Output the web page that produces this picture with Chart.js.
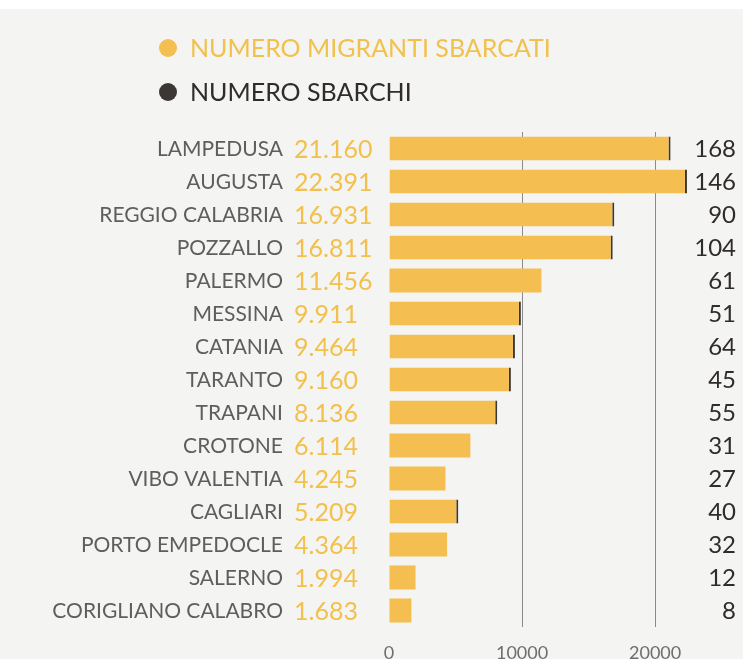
<!DOCTYPE html>
<html>
<head>
<meta charset="utf-8">
<script src="https://cdn.jsdelivr.net/npm/chart.js@4"></script>
<style>
  html, body { margin: 0; padding: 0; background: #f4f4f2; }
  #wrap { width: 743px; height: 659px; position: relative; }
</style>
</head>
<body>
<div id="wrap"><canvas id="chart" width="743" height="659"></canvas></div>
<script>
const cities = ['LAMPEDUSA', 'AUGUSTA', 'REGGIO CALABRIA', 'POZZALLO', 'PALERMO', 'MESSINA', 'CATANIA',
  'TARANTO', 'TRAPANI', 'CROTONE', 'VIBO VALENTIA', 'CAGLIARI', 'PORTO EMPEDOCLE', 'SALERNO', 'CORIGLIANO CALABRO'];
const migranti = [21160, 22391, 16931, 16811, 11456, 9911, 9464, 9160, 8136, 6114, 4245, 5209, 4364, 1994, 1683];
const sbarchi = [168, 146, 90, 104, 61, 51, 64, 45, 55, 31, 27, 40, 32, 12, 8];
const xTicks = [0, 10000, 20000];
// which bars carry the thin dark end mark in the original
const endMark = [1, 1, 1, 1, 0, 1, 1, 1, 1, 0, 0, 1, 0, 0, 0];

const YELLOW = '#f4bf50';
const YELLOW_TEXT = '#f2c04c';
const DARK = '#3b3735';

// Italian thousands separator
function fmt(n) {
  return String(n).replace(/\B(?=(\d{3})+(?!\d))/g, '.');
}

// Page background, legend and row labels
const decorPlugin = {
  id: 'decor',
  beforeDraw(chart) {
    const ctx = chart.ctx;
    ctx.save();
    ctx.fillStyle = '#f4f4f2';
    ctx.fillRect(0, 0, chart.width, chart.height);
    ctx.fillStyle = '#ffffff';
    ctx.fillRect(0, 0, chart.width, 9);
    ctx.restore();
  },
  afterDatasetsDraw(chart) {
    const ctx = chart.ctx;
    const y = chart.scales.y;
    ctx.save();

    // legend
    const legend = [
      { text: chart.data.datasets[0].label, color: YELLOW, textColor: YELLOW_TEXT, y: 48 },
      { text: 'NUMERO SBARCHI', color: DARK, textColor: '#2f2c2b', y: 92 }
    ];
    ctx.textBaseline = 'middle';
    ctx.textAlign = 'left';
    ctx.font = '25px Lato';
    legend.forEach(item => {
      ctx.fillStyle = item.color;
      ctx.beginPath();
      ctx.arc(168, item.y, 9, 0, Math.PI * 2);
      ctx.fill();
      ctx.fillStyle = item.textColor;
      ctx.fillText(item.text, 190, item.y + 1);
    });

    // row labels
    cities.forEach((name, i) => {
      const py = y.getPixelForValue(i) + 1;
      ctx.textAlign = 'right';
      ctx.font = '21px Lato';
      ctx.fillStyle = '#5e5e5e';
      ctx.fillText(name, 283, py);

      ctx.textAlign = 'left';
      ctx.font = '25px Lato';
      ctx.fillStyle = YELLOW_TEXT;
      ctx.fillText(fmt(migranti[i]), 294, py);

      ctx.textAlign = 'right';
      ctx.font = '24px Lato';
      ctx.fillStyle = '#2f2c2b';
      ctx.fillText(String(sbarchi[i]), 736, py);
    });
    ctx.restore();
  }
};

function draw() {
  new Chart(document.getElementById('chart'), {
    type: 'bar',
    data: {
      labels: cities,
      datasets: [{
        label: 'NUMERO MIGRANTI SBARCATI',
        data: migranti,
        backgroundColor: YELLOW,
        borderColor: DARK,
        borderWidth: ctx => ({ top: 0, bottom: 0, left: 0, right: endMark[ctx.dataIndex] ? 2 : 0 }),
        borderSkipped: false,
        barPercentage: 0.73,
        categoryPercentage: 1
      }]
    },
    options: {
      indexAxis: 'y',
      responsive: false,
      animation: false,
      layout: { padding: { left: 389, right: 8, top: 132, bottom: 0 } },
      plugins: {
        legend: { display: false },
        tooltip: { enabled: false }
      },
      scales: {
        y: { display: false },
        x: {
          min: 0,
          max: 26000,
          afterBuildTicks: axis => { axis.ticks = xTicks.map(v => ({ value: v })); },
          afterFit: axis => { axis.height = 32; },
          border: { display: false },
          grid: {
            drawTicks: false,
            color: c => (c.tick && c.tick.value === 0) ? 'rgba(0,0,0,0)' : '#8a8a8a',
            lineWidth: 1
          },
          ticks: {
            padding: 15,
            color: '#6e6e6e',
            font: { family: 'Lato', size: 18 },
            callback: v => String(v)
          }
        }
      }
    },
    plugins: [decorPlugin]
  });
}

document.fonts.load('20px Lato').then(draw, draw);
</script>
</body>
</html>
